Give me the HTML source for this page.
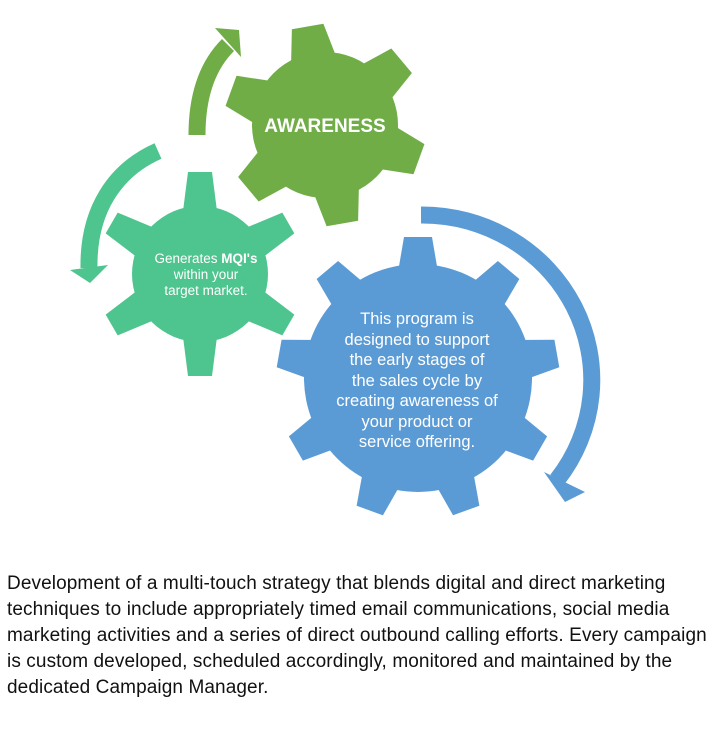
<!DOCTYPE html><html><head><style>
body{margin:0;background:#fff;width:720px;height:738px;overflow:hidden;font-family:"Liberation Sans",sans-serif}
.t{position:absolute;left:7px;top:571px;font-size:19px;line-height:26px;color:#111;white-space:nowrap;letter-spacing:0.1px}
</style></head><body>
<svg width="720" height="560" style="position:absolute;left:0;top:0">
<defs>
<polygon id="tb" points="-21,-100 -14,-141 14,-141 21,-100"/>
<polygon id="tt" points="-18,-55 -12,-102 12,-102 18,-55"/>
<polygon id="tg" points="-24,-60 -16,-100 16,-100 24,-60"/>
</defs>
<g fill="#70AD47" transform="translate(325,125)">
<circle r="73"/>
<g transform="rotate(-10)"><use href="#tg"/><use href="#tg" transform="rotate(60)"/><use href="#tg" transform="rotate(120)"/><use href="#tg" transform="rotate(180)"/><use href="#tg" transform="rotate(240)"/><use href="#tg" transform="rotate(300)"/></g>
</g>
<text x="325" y="132" fill="#fff" font-size="19" font-weight="bold" text-anchor="middle">AWARENESS</text>
<g fill="#4EC48E" transform="translate(200,274)">
<circle r="68"/>
<use href="#tt"/><use href="#tt" transform="rotate(60)"/><use href="#tt" transform="rotate(120)"/><use href="#tt" transform="rotate(180)"/><use href="#tt" transform="rotate(240)"/><use href="#tt" transform="rotate(300)"/>
</g>
<g fill="#fff" font-size="13.5" text-anchor="middle">
<text x="206" y="263">Generates <tspan font-weight="bold">MQI's</tspan></text>
<text x="206" y="279">within your</text>
<text x="206" y="295">target market.</text>
</g>
<g fill="#5B9BD5" transform="translate(418,378)">
<circle r="114"/>
<use href="#tb"/><use href="#tb" transform="rotate(40)"/><use href="#tb" transform="rotate(80)"/><use href="#tb" transform="rotate(120)"/><use href="#tb" transform="rotate(160)"/><use href="#tb" transform="rotate(200)"/><use href="#tb" transform="rotate(240)"/><use href="#tb" transform="rotate(280)"/><use href="#tb" transform="rotate(320)"/>
</g>
<g fill="#fff" font-size="16.5" text-anchor="middle">
<text x="417" y="324">This program is</text>
<text x="417" y="345">designed to support</text>
<text x="417" y="365">the early stages of</text>
<text x="417" y="386">the sales cycle by</text>
<text x="417" y="406">creating awareness of</text>
<text x="417" y="427">your product or</text>
<text x="417" y="447">service offering.</text>
</g>
<path d="M197 135 C197 95 208 65 228 45" stroke="#70AD47" stroke-width="17" fill="none"/>
<polygon points="215,28 239,30 241,57" fill="#70AD47"/>
<path d="M158 151 C115 170 88 210 89 268" stroke="#4EC48E" stroke-width="17" fill="none"/>
<polygon points="70,270 108,265 90,283" fill="#4EC48E"/>
<path d="M421 215 A 170 165 0 0 1 557 480" stroke="#5B9BD5" stroke-width="17" fill="none"/>
<polygon points="544,472 585,492 565,502" fill="#5B9BD5"/>
</svg>
<div class="t">Development of a multi-touch strategy that blends digital and direct marketing<br>techniques to include appropriately timed email communications, social media<br>marketing activities and a series of direct outbound calling efforts. Every campaign<br>is custom developed, scheduled accordingly, monitored and maintained by the<br>dedicated Campaign Manager.</div>
</body></html>
